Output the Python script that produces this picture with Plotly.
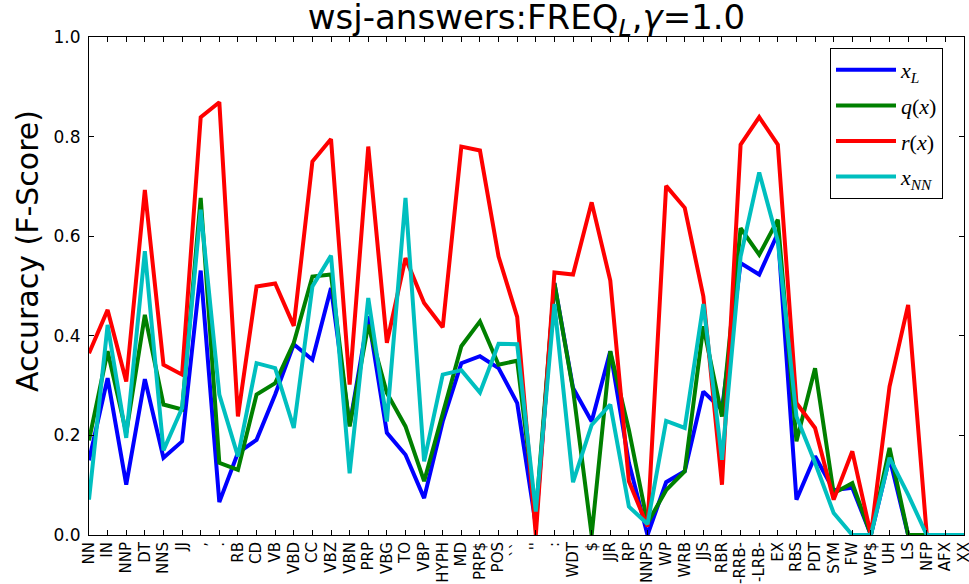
import plotly.graph_objects as go

labels = ["NN", "IN", "NNP", "DT", "NNS", "JJ", ",", ".", "RB", "CD", "VB", "VBD",
          "CC", "VBZ", "VBN", "PRP", "VBG", "TO", "VBP", "HYPH", "MD", "PRP$", "POS",
          "``", "''", ":", "WDT", "$", "JJR", "RP", "NNPS", "WP", "WRB", "JJS", "RBR",
          "-RRB-", "-LRB-", "EX", "RBS", "PDT", "SYM", "FW", "WP$", "UH", "LS", "NFP",
          "AFX", "XX"]

x_L = [0.15, 0.315, 0.101, 0.313, 0.155, 0.188, 0.531, 0.066, 0.165, 0.191,
       0.282, 0.383, 0.352, 0.496, 0.22, 0.439, 0.205, 0.161, 0.074, 0.228,
       0.345, 0.359, 0.335, 0.265, 0.02, 0.506, 0.295, 0.228, 0.369, 0.145,
       0.0, 0.106, 0.128, 0.288, 0.252, 0.546, 0.523, 0.606, 0.071, 0.158,
       0.09, 0.095, 0.0, 0.155, 0.0, 0.0, 0.0, 0.0]

q_x = [0.19, 0.369, 0.205, 0.442, 0.262, 0.252, 0.677, 0.145, 0.131, 0.282,
       0.305, 0.386, 0.519, 0.523, 0.218, 0.422, 0.285, 0.218, 0.108, 0.245,
       0.379, 0.429, 0.342, 0.35, 0.04, 0.506, 0.292, 0.0, 0.369, 0.211,
       0.024, 0.09, 0.128, 0.419, 0.238, 0.616, 0.563, 0.633, 0.188, 0.335,
       0.084, 0.104, 0.0, 0.175, 0.0, 0.0, 0.0, 0.0]

r_x = [0.365, 0.452, 0.308, 0.693, 0.342, 0.322, 0.839, 0.869, 0.238, 0.499,
       0.505, 0.42, 0.75, 0.795, 0.302, 0.78, 0.386, 0.556, 0.466, 0.417,
       0.78, 0.772, 0.559, 0.438, 0.0, 0.527, 0.523, 0.668, 0.511, 0.108,
       0.017, 0.701, 0.657, 0.479, 0.101, 0.784, 0.839, 0.784, 0.265, 0.215,
       0.071, 0.168, 0.0, 0.298, 0.462, 0.0, 0.0, 0.0]

x_NN = [0.071, 0.422, 0.195, 0.57, 0.17, 0.255, 0.653, 0.282, 0.158, 0.345,
        0.335, 0.215, 0.499, 0.561, 0.124, 0.476, 0.228, 0.677, 0.148, 0.322,
        0.331, 0.286, 0.384, 0.383, 0.047, 0.464, 0.106, 0.221, 0.262, 0.057,
        0.022, 0.229, 0.215, 0.464, 0.151, 0.559, 0.728, 0.59, 0.238, 0.145,
        0.044, 0.0, 0.0, 0.155, 0.081, 0.0, 0.0, 0.0]

y_ticks = [0.0, 0.2, 0.4, 0.6, 0.8, 1.0]
y_ticktext = ["0.0", "0.2", "0.4", "0.6", "0.8", "1.0"]

series = [
    ("<i>x</i><sub><i>L</i></sub>", x_L, "#0000ff"),
    ("<i>q</i>(<i>x</i>)", q_x, "#008000"),
    ("<i>r</i>(<i>x</i>)", r_x, "#ff0000"),
    ("<i>x</i><sub><i>NN</i></sub>", x_NN, "#00bfbf"),
]

fig = go.Figure()
for i, (name, vals, color) in enumerate(series):
    fig.add_trace(go.Scatter(
        x=labels, y=vals, mode="lines", name=name,
        line=dict(color=color, width=4),
        legendgroup="g%d" % i,
    ))

axis_common = dict(
    showline=True, linecolor="black", linewidth=1, mirror="ticks",
    ticks="inside", ticklen=5, tickcolor="black", tickwidth=1,
    showgrid=False, zeroline=False, automargin=False,
)

fig.update_layout(
    width=969, height=584,
    margin=dict(l=89, r=5, t=37, b=49),
    paper_bgcolor="white", plot_bgcolor="white",
    font=dict(family="DejaVu Sans", color="black"),
    title=dict(
        text="wsj-answers:FREQ<sub><i>L</i></sub>,<i>γ</i>=1.0",
        x=0.5, xref="paper", xanchor="center",
        y=1 - 17 / 584, yref="container", yanchor="middle",
        font=dict(family="DejaVu Sans", size=34, color="black"),
    ),
    xaxis=dict(
        type="category", range=[0, len(labels) - 1],
        tickangle=-90, tickfont=dict(size=15, family="DejaVu Sans", color="black"),
        **axis_common,
    ),
    yaxis=dict(
        range=[0, 1], tickvals=y_ticks, ticktext=y_ticktext,
        tickfont=dict(size=17, family="DejaVu Sans", color="black"),
        ticklabelstandoff=4,
        **axis_common,
    ),
    legend=dict(
        x=(830 - 89) / 875, y=(535 - 48) / 498, xanchor="left", yanchor="top",
        bgcolor="white", bordercolor="black", borderwidth=1,
        font=dict(family="Liberation Serif", size=22, color="black"),
        tracegroupgap=4, traceorder="grouped",
        itemwidth=60,
    ),
    annotations=[dict(
        text="Accuracy (F-Score)", textangle=-90,
        x=(27 - 89) / 875, y=(535 - 251) / 498, xref="paper", yref="paper",
        xanchor="center", yanchor="middle", showarrow=False,
        font=dict(family="DejaVu Sans", size=30, color="black"),
    )],
)

fig.write_html("out.html", config={"displayModeBar": False},
               post_script="document.body.style.margin='0';")
